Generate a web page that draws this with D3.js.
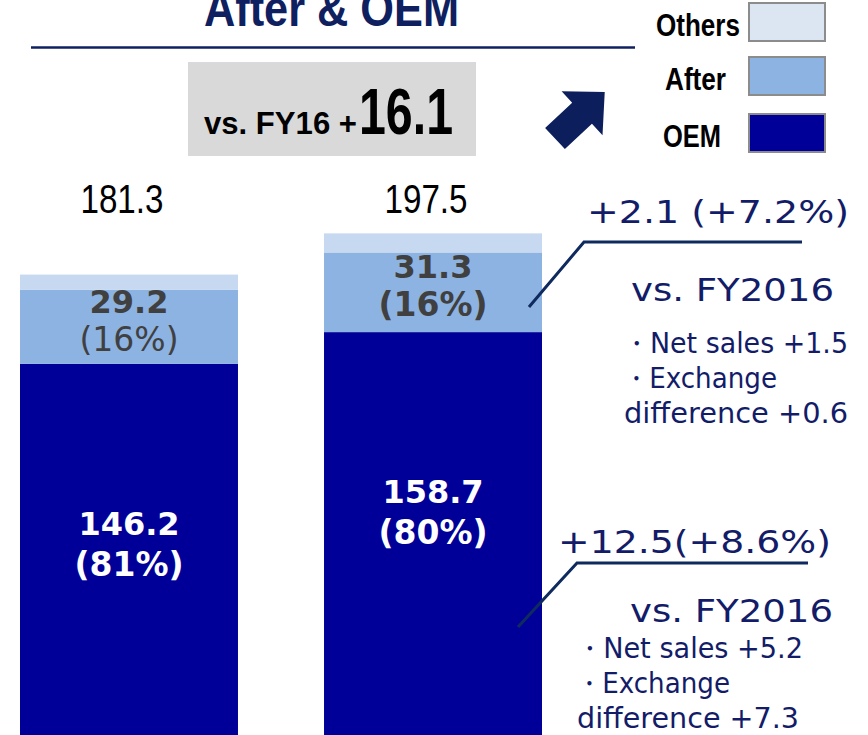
<!DOCTYPE html>
<html>
<head>
<meta charset="utf-8">
<script src="https://cdn.jsdelivr.net/npm/d3@7"></script>
<style>
  body { margin: 0; background: #fff; }
  svg { display: block; }
</style>
</head>
<body>
<svg width="868" height="735"></svg>
<script>
// data
var categories = ["FY2016", "FY2017"];
var oem = [146.2, 158.7];
var after = [29.2, 31.3];
var others = [5.9, 7.5];
var totals = [181.3, 197.5];
var oemShare = ["81%", "80%"];
var afterShare = ["16%", "16%"];
var legendKeys = ["Others", "After", "OEM"];
var upperNote = ["+2.1 (+7.2%)", "vs. FY2016", "・Net sales +1.5", "・Exchange", "difference +0.6"];
var lowerNote = ["+12.5(+8.6%)", "vs. FY2016", "・Net sales +5.2", "・Exchange", "difference +7.3"];

var svg = d3.select("svg"),
    navy = "#0f2060",
    noteColor = "#131c68";

var rows = categories.map(function(c, i) {
    return {cat: c, oem: oem[i], after: after[i], others: others[i], total: totals[i]};
});

var x = d3.scaleBand()
    .domain(categories)
    .range([20, 542])
    .paddingInner(0.283)
    .paddingOuter(0);

var y = d3.scaleLinear()
    .domain([0, 200])
    .range([736, 227]);

var z = d3.scaleOrdinal()
    .domain(["oem", "after", "others"])
    .range(["#000099", "#8db3e2", "#c6d9f0"]);

/* --------- title --------- */
svg.append("text")
    .attr("x", 204).attr("y", 26)
    .attr("font-family", "Liberation Sans, Arial, sans-serif")
    .attr("font-weight", "bold")
    .attr("font-size", 50)
    .attr("textLength", 255)
    .attr("lengthAdjust", "spacingAndGlyphs")
    .attr("fill", navy)
    .text("After & OEM");

svg.append("line")
    .attr("x1", 31).attr("x2", 635)
    .attr("y1", 47.5).attr("y2", 47.5)
    .attr("stroke", navy)
    .attr("stroke-width", 2.5);

/* --------- grey box --------- */
svg.append("rect")
    .attr("x", 188).attr("y", 62)
    .attr("width", 288).attr("height", 94)
    .attr("fill", "#d9d9d9");

svg.append("text")
    .attr("x", 204).attr("y", 134)
    .attr("font-family", "Liberation Sans, Arial, sans-serif")
    .attr("font-weight", "bold")
    .attr("font-size", 31)
    .attr("textLength", 153)
    .attr("lengthAdjust", "spacingAndGlyphs")
    .text("vs. FY16 +");

svg.append("text")
    .attr("x", 359).attr("y", 134)
    .attr("font-family", "Liberation Sans, Arial, sans-serif")
    .attr("font-weight", "bold")
    .attr("font-size", 65)
    .attr("textLength", 94)
    .attr("lengthAdjust", "spacingAndGlyphs")
    .text("16.1");

/* --------- arrow --------- */
svg.append("path")
    .attr("transform", "translate(555,138.5) rotate(-43)")
    .attr("d", "M0,-14.5 L37,-14.5 L37,-30 L68,0 L37,30 L37,14.5 L0,14.5 Z")
    .attr("fill", "#0c1f5c");

/* --------- legend --------- */
var legendFill = {"Others": "#dce6f2", "After": "#8db3e2", "OEM": "#000099"};
var legendTop = [3, 57, 114];
var legendWidth = {"Others": 84, "After": 61, "OEM": 58};
var legendX = {"Others": 656, "After": 665, "OEM": 663};

var legend = svg.append("g")
    .selectAll("g")
    .data(legendKeys)
    .enter().append("g")
    .attr("transform", function(d, i) { return "translate(0," + legendTop[i] + ")"; });

legend.append("rect")
    .attr("x", 749)
    .attr("width", 76)
    .attr("height", 38)
    .attr("fill", function(d) { return legendFill[d]; })
    .attr("stroke", "#8c8c8c")
    .attr("stroke-width", 2);

legend.append("text")
    .attr("x", function(d) { return legendX[d]; })
    .attr("y", 33)
    .attr("font-family", "Liberation Sans, Arial, sans-serif")
    .attr("font-weight", "bold")
    .attr("font-size", 32)
    .attr("textLength", function(d) { return legendWidth[d]; })
    .attr("lengthAdjust", "spacingAndGlyphs")
    .text(function(d) { return d; });

/* --------- stacked bars --------- */
var series = d3.stack().keys(["oem", "after", "others"])(rows);

svg.append("g")
    .selectAll("g")
    .data(series)
    .enter().append("g")
    .attr("fill", function(d) { return z(d.key); })
    .selectAll("rect")
    .data(function(d) { return d; })
    .enter().append("rect")
    .attr("x", function(d) { return x(d.data.cat); })
    .attr("y", function(d) { return y(d[1]); })
    .attr("height", function(d) { return y(d[0]) - y(d[1]); })
    .attr("width", x.bandwidth());

// totals above bars
svg.append("g")
    .selectAll("text")
    .data(rows)
    .enter().append("text")
    .attr("x", function(d) { return x(d.cat) + x.bandwidth() / 2 - 7; })
    .attr("y", 213)
    .attr("text-anchor", "middle")
    .attr("font-family", "Liberation Sans, Arial, sans-serif")
    .attr("font-size", 40)
    .attr("textLength", 83)
    .attr("lengthAdjust", "spacingAndGlyphs")
    .text(function(d) { return d.total.toFixed(1); });

// After labels
var afterLbl = svg.append("g")
    .attr("font-family", "DejaVu Sans, Verdana, sans-serif")
    .attr("font-size", 33)
    .attr("fill", "#404040")
    .attr("text-anchor", "middle")
    .selectAll("g")
    .data(rows)
    .enter().append("g")
    .attr("transform", function(d) {
        var mid = (y(d.oem) + y(d.oem + d.after)) / 2;
        return "translate(" + (x(d.cat) + x.bandwidth() / 2) + "," + mid + ")";
    });

afterLbl.append("text")
    .attr("y", -14)
    .attr("font-weight", "bold")
    .attr("font-size", 32)
    .text(function(d) { return d.after.toFixed(1); });

afterLbl.append("text")
    .attr("y", 24)
    .attr("font-weight", function(d, i) { return i === 0 ? "normal" : "bold"; })
    .text(function(d, i) { return "(" + afterShare[i] + ")"; });

// OEM labels
var oemLbl = svg.append("g")
    .attr("font-family", "DejaVu Sans, Verdana, sans-serif")
    .attr("font-weight", "bold")
    .attr("fill", "#fff")
    .attr("text-anchor", "middle")
    .selectAll("g")
    .data(rows)
    .enter().append("g")
    .attr("transform", function(d) {
        return "translate(" + (x(d.cat) + x.bandwidth() / 2) + "," + y(d.oem) + ")";
    });

oemLbl.append("text")
    .attr("y", 171)
    .attr("font-size", 32)
    .text(function(d) { return d.oem.toFixed(1); });

oemLbl.append("text")
    .attr("y", 212)
    .attr("font-size", 33)
    .text(function(d, i) { return "(" + oemShare[i] + ")"; });

/* --------- annotations --------- */
function note(lines, pos) {
    var g = svg.append("g")
        .attr("font-family", "DejaVu Sans, Verdana, sans-serif")
        .attr("fill", noteColor);
    lines.forEach(function(t, i) {
        g.append("text")
            .attr("x", pos[i][0])
            .attr("y", pos[i][1])
            .attr("font-size", pos[i][3])
            .attr("textLength", pos[i][2])
            .attr("lengthAdjust", "spacingAndGlyphs")
            .text(t);
    });
}

// [x, baseline, width, size]
note(upperNote, [[587, 223, 262, 32], [631, 301, 203, 32], [623, 353, 225, 28], [623, 388, 154, 28], [624, 423, 224, 28]]);
note(lowerNote, [[558, 553, 273, 32], [630, 622, 203, 32], [576, 658, 227, 28], [576, 693, 154, 28], [577, 728, 222, 28]]);

var leader = d3.line();
svg.append("path")
    .attr("d", leader([[529, 307], [584, 242], [802, 242]]))
    .attr("fill", "none").attr("stroke", "#0e2a5e").attr("stroke-width", 3);
svg.append("path")
    .attr("d", leader([[518, 627], [577, 563], [808, 563]]))
    .attr("fill", "none").attr("stroke", "#0e2a5e").attr("stroke-width", 3);
</script>
</body>
</html>
